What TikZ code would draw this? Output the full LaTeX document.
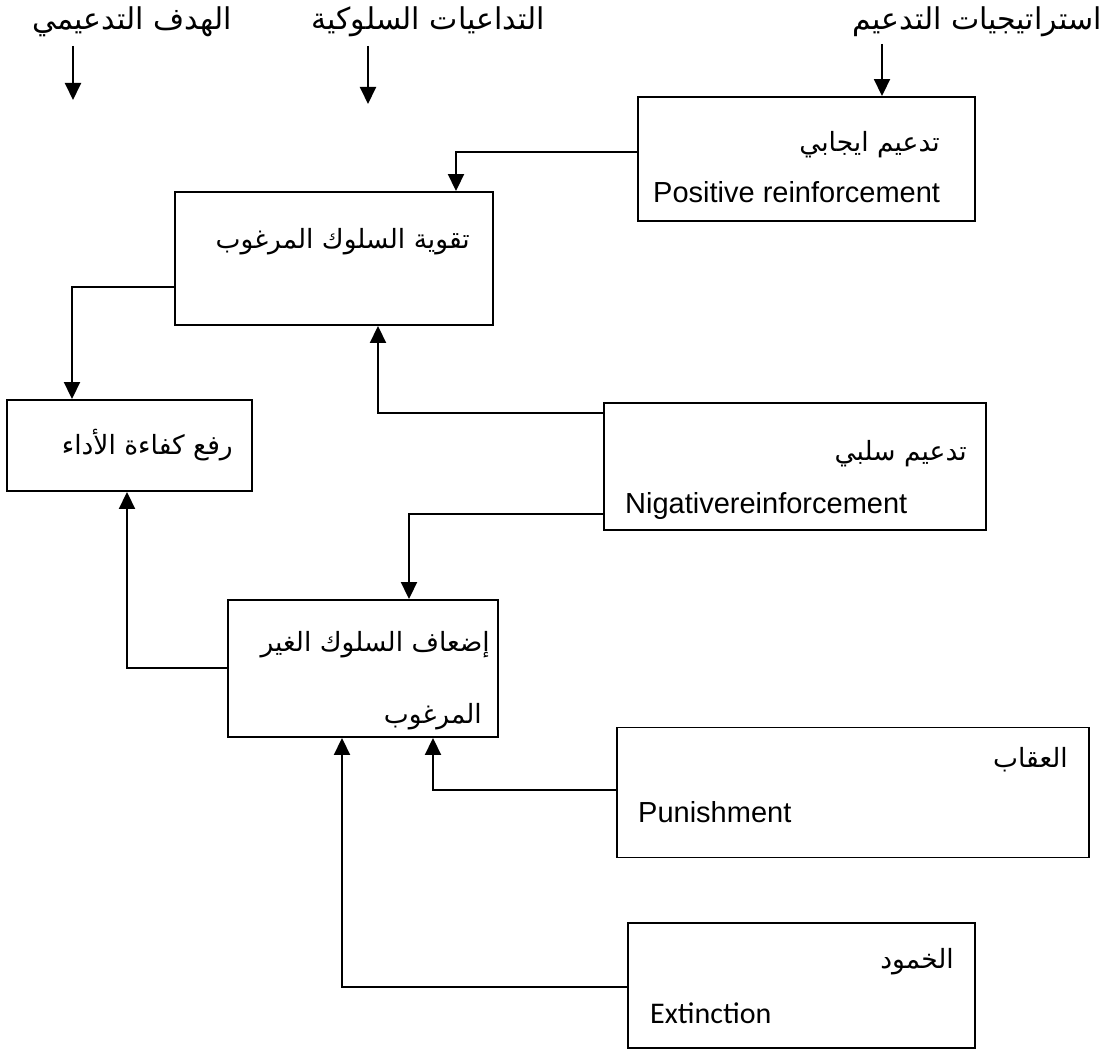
\documentclass[tikz,border=0pt]{standalone}
\usepackage{fontspec}
\setmainfont{Liberation Sans}
\newfontfamily\arabicfont[Script=Arabic]{DejaVu Sans}
\newfontfamily\calibfont{Carlito}
\TeXXeTstate=1
\usetikzlibrary{arrows.meta}
\begin{document}
\begin{tikzpicture}[x=1pt,y=-1pt,
  box/.style={draw, line width=1.9pt, rectangle, inner sep=0pt},
  conn/.style={line width=1.9pt, -{Triangle[length=17pt,width=16pt]}},
  ar/.style={font=\arabicfont\fontsize{26.5}{30}\selectfont, inner sep=0pt, anchor=east},
  head/.style={font=\arabicfont\fontsize{30}{34}\selectfont, inner sep=0pt},
  en/.style={font=\fontsize{29}{33}\selectfont, inner sep=0pt, anchor=base west},
  enc/.style={font=\calibfont\fontsize{30}{34}\selectfont, inner sep=0pt, anchor=base west},
]
\useasboundingbox (0,0) rectangle (1109,1054);

% column headings
\node[head] (h1) at (132,22) {\beginR الهدف التدعيمي\endR};
\node[head] (h2) at (428,22) {\beginR التداعيات السلوكية\endR};
\node[head] (h3) at (977,22) {\beginR استراتيجيات التدعيم\endR};

% boxes
\node[box, minimum width=337, minimum height=124] (pr) at (806.5,159) {};
\node[box, minimum width=318, minimum height=133] (t)  at (334,258.5) {};
\node[box, minimum width=245, minimum height=91]  (r)  at (129.5,445.5) {};
\node[box, minimum width=382, minimum height=127] (nr) at (795,466.5) {};
\node[box, minimum width=270, minimum height=137] (w)  at (363,668.5) {};
\node[box, minimum width=472, minimum height=130] (p)  at (853,792.5) {};
\node[box, minimum width=347, minimum height=125] (e)  at (801.5,985.5) {};

% box texts
\node[ar] (prA) at (940,145) {\beginR تدعيم ايجابي\endR};
\node[en] (prE) at (653,203) {Positive reinforcement};
\node[ar] (tA)  at (470,242) {\beginR تقوية السلوك المرغوب\endR};
\node[ar] (rA)  at (233,445) {\beginR رفع كفاءة الأداء\endR};
\node[ar] (nrA) at (967,454) {\beginR تدعيم سلبي\endR};
\node[en] (nrE) at (625,513) {Nigativereinforcement};
\node[ar] (wA1) at (490,645) {\beginR إضعاف السلوك الغير\endR};
\node[ar] (wA2) at (482,717) {\beginR المرغوب\endR};
\node[ar] (pA)  at (1068,760) {\beginR العقاب\endR};
\node[en] (pE)  at (638,822) {Punishment};
\node[ar] (eA)  at (954,962) {\beginR الخمود\endR};
\node[enc] (eE) at (650,1023) {Extinction};

% heading arrows
\coordinate (a1s) at (73,46);
\coordinate (a1e) at (73,100);
\coordinate (a2s) at (368,46);
\coordinate (a2e) at (368,104);
\coordinate (a3s) at (882,44);
\draw[conn] (a1s) -- (a1e);
\draw[conn] (a2s) -- (a2e);
\draw[conn] (a3s) -- (pr.north -| a3s);

% connectors between boxes
\draw[conn] (pr.west |- 0,152) -| (t.north -| 456,0);
\draw[conn] (t.west |- 0,287) -| (r.north -| 72,0);
\draw[conn] (nr.west |- 0,413) -| (t.south -| 378,0);
\draw[conn] (nr.west |- 0,514) -| (w.north -| 409,0);
\draw[conn] (w.west |- 0,668) -| (r.south -| 127,0);
\draw[conn] (p.west |- 0,790) -| (w.south -| 433,0);
\draw[conn] (e.west |- 0,987) -| (w.south -| 342,0);
\end{tikzpicture}
\end{document}
